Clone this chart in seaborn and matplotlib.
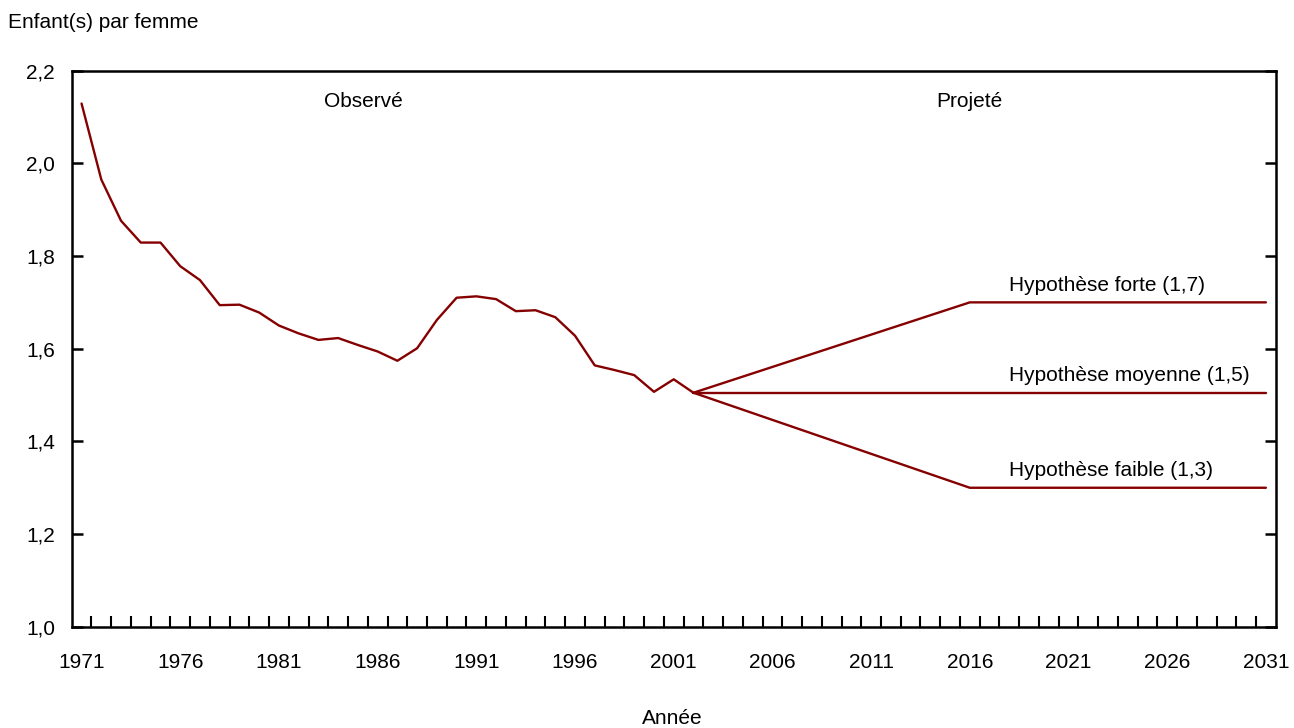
import numpy as np
import pandas as pd
import seaborn as sns
import matplotlib.pyplot as plt
from matplotlib.ticker import FixedLocator, FuncFormatter

# Indice synthétique de fécondité observé
obs_years = list(range(1971, 2003))
obs_values = [2.129, 1.965, 1.876, 1.829, 1.829, 1.778, 1.748, 1.694, 1.695, 1.678,
              1.650, 1.633, 1.619, 1.623, 1.608, 1.594, 1.574, 1.601, 1.662, 1.710,
              1.713, 1.707, 1.681, 1.683, 1.668, 1.628, 1.564, 1.554, 1.543, 1.507,
              1.534, 1.505]

# Hypothèses de projection (points de rupture)
proj_years = [2002, 2016, 2031]
proj_forte = [1.505, 1.7, 1.7]
proj_moyenne = [1.505, 1.505, 1.505]
proj_faible = [1.505, 1.3, 1.3]
proj_labels = ["Hypothèse forte (1,7)", "Hypothèse moyenne (1,5)", "Hypothèse faible (1,3)"]

x_labels = list(range(1971, 2032, 5))
y_ticks = [1.0, 1.2, 1.4, 1.6, 1.8, 2.0, 2.2]

color = "#850000"
fs = 15

sns.set_theme(style="white")
plt.rcParams['font.family'] = ['Liberation Sans', 'DejaVu Sans']
plt.rcParams['text.color'] = 'black'
plt.rcParams['xtick.color'] = 'black'
plt.rcParams['ytick.color'] = 'black'

fig = plt.figure(figsize=(12.94, 7.28), dpi=100)
ax = fig.add_axes([0.0554, 0.139, 0.9305, 0.764])

obs_df = pd.DataFrame({"annee": obs_years, "isf": obs_values})
sns.lineplot(data=obs_df, x="annee", y="isf", ax=ax, color=color, linewidth=1.7)

for vals, lab in zip([proj_forte, proj_moyenne, proj_faible], proj_labels):
    df = pd.DataFrame({"annee": proj_years, "isf": vals})
    sns.lineplot(data=df, x="annee", y="isf", ax=ax, color=color, linewidth=1.7)
    ax.text(2018.0, vals[-1] + 0.037, lab, fontsize=fs, va="center", ha="left")

ax.text(1985.3, 2.134, "Observé", fontsize=fs, ha="center", va="center")
ax.text(2016, 2.134, "Projeté", fontsize=fs, ha="center", va="center")

ax.set_xlim(1970.5, 2031.5)
ax.set_ylim(1.0, 2.2)
ax.set_xticks(x_labels)
ax.xaxis.set_minor_locator(FixedLocator(np.arange(1971.5, 2031, 1)))
ax.set_yticks(y_ticks)
ax.yaxis.set_major_formatter(FuncFormatter(lambda v, p: f"{v:.1f}".replace(".", ",")))

ax.tick_params(axis="x", which="major", length=0, pad=19, labelsize=fs)
ax.tick_params(axis="x", which="minor", length=8, width=1.5, direction="in", bottom=True, top=False)
ax.tick_params(axis="y", which="major", length=8, width=1.8, direction="in",
               left=True, right=True, pad=12, labelsize=fs)

for s in ax.spines.values():
    s.set_color("black")
    s.set_linewidth(1.8)

ax.set_xlabel("")
ax.set_ylabel("")
fig.text(672 / 1294, 1 - 718 / 728, "Année", fontsize=fs, ha="center", va="center")
fig.text(8 / 1294, 1 - 23 / 728, "Enfant(s) par femme", fontsize=fs, ha="left", va="center")

fig.savefig("out.png", dpi=100)
